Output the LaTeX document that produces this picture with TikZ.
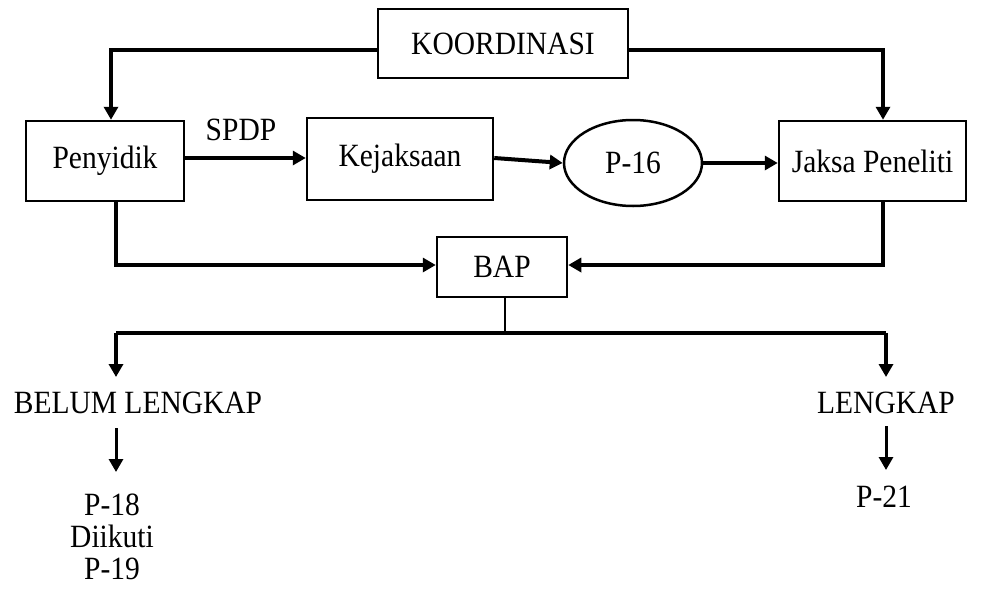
\documentclass[tikz,border=0pt]{standalone}
\usepackage{fontspec}
\usepackage{graphicx}
\setmainfont{Liberation Serif}
\usetikzlibrary{arrows.meta,shapes.geometric}
\newcommand{\tx}[1]{\scalebox{1}[1.1]{#1}}
\begin{document}
\begin{tikzpicture}[x=1pt,y=-1pt,
  box/.style={draw,line width=2.5pt,inner sep=0pt,font=\fontsize{29.5}{32}\selectfont},
  lbl/.style={inner sep=0pt,font=\fontsize{29.5}{32}\selectfont,align=center},
  tip/.style={-{Triangle[length=13pt,width=14pt]}},
  arr/.style={line width=4pt,tip},
  ln/.style={line width=4pt}]
\useasboundingbox (0,0) rectangle (981,589);
\node[box,minimum width=250pt,minimum height=69pt] (koord) at (503,43.5) {\tx{KOORDINASI}};
\node[box,minimum width=158pt,minimum height=80pt] (peny) at (105,161) {\tx{Penyidik}};
\node[box,minimum width=186pt,minimum height=82pt] (kej) at (400,159) {\raisebox{5pt}{\tx{Kejaksaan}}};
\node[box,ellipse,minimum width=138pt,minimum height=86pt] (p16) at (633,163) {\tx{P-16}};
\node[box,minimum width=187pt,minimum height=80pt] (jaksa) at (872.5,161) {\tx{Jaksa Peneliti}};
\node[box,minimum width=130pt,minimum height=60pt] (bap) at (502,267) {\tx{BAP}};
\node[lbl] (spdp) at (241,130) {\tx{SPDP}};
\node[lbl] (belum) at (138,403) {\tx{BELUM LENGKAP}};
\node[lbl] (lengkap) at (886,403) {\tx{LENGKAP}};
\node[lbl] (p18) at (112,537) {\tx{P-18}\\\tx{Diikuti}\\\tx{P-19}};
\node[lbl] (p21) at (884,497) {\tx{P-21}};
\coordinate (split) at (505,333);
\coordinate (lt) at (116,377);
\coordinate (rt) at (886,377);
\coordinate (la) at (116,428);
\coordinate (lb) at (116,472);
\coordinate (ra) at (886,426);
\coordinate (rb) at (886,470);
% top connectors
\draw[arr] ([yshift=-6.5pt]koord.west) -| ([xshift=6pt]peny.north);
\draw[arr] ([yshift=-6.5pt]koord.east) -| ([xshift=10.5pt]jaksa.north);
% main row
\draw[arr] ([yshift=3pt]peny.east) -- ([yshift=1pt]kej.west);
\draw[arr] ([yshift=1pt]kej.east) -- (p16.west);
\draw[arr] (p16.east) -- ([yshift=-2pt]jaksa.west);
% to BAP
\draw[arr] ([xshift=11pt]peny.south) |- ([yshift=2pt]bap.west);
\draw[arr] ([xshift=10.5pt]jaksa.south) |- ([yshift=2pt]bap.east);
% from BAP
\draw[line width=2.5pt] ([xshift=3pt]bap.south) -- (split);
\draw[ln] (lt |- split) -- (rt |- split);
\draw[line width=3.5pt,tip] (lt |- split) -- (lt);
\draw[line width=3.5pt,tip] (rt |- split) -- (rt);
\draw[line width=3pt,tip] (la) -- (lb);
\draw[line width=3pt,tip] (ra) -- (rb);
\end{tikzpicture}
\end{document}
